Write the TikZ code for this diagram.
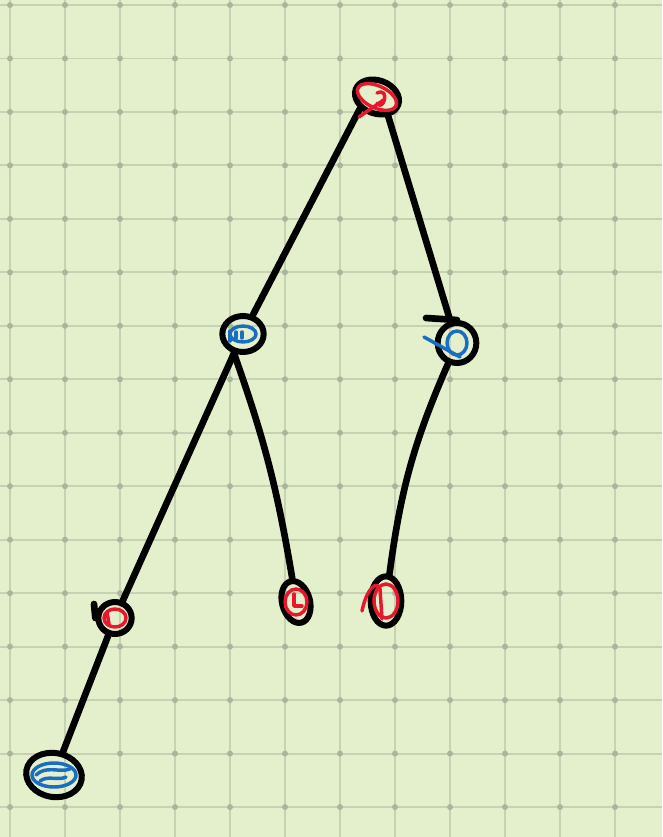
\documentclass[tikz,border=0pt]{standalone}
\usetikzlibrary{shapes.geometric}
\definecolor{paper}{HTML}{E4F0CC}
\definecolor{gridline}{HTML}{C6D2B2}
\definecolor{griddot}{HTML}{A9B59C}
\definecolor{ink}{HTML}{E8182C}
\definecolor{pen}{HTML}{1A6EC2}

\begin{document}
\begin{tikzpicture}[x=0.75pt, y=-0.75pt,
  blob/.style={draw, ellipse, line width=4.5pt, inner sep=0pt},
  edge/.style={line width=5pt, line cap=round},
  scrib/.style={line width=2.6pt, line cap=round, line join=round}]
  % paper with grid
  \fill[paper] (0,0) rectangle (662,837);
  \useasboundingbox (0,0) rectangle (662,837);
  \foreach \i in {0,...,11}
    \draw[gridline, line width=1.4pt] (10+55*\i,0) -- (10+55*\i,837);
  \foreach \j in {0,...,15}
    \draw[gridline, line width=1.4pt] (0,5+53.47*\j) -- (662,5+53.47*\j);
  \foreach \i in {0,...,11}
    \foreach \j in {0,...,15}
      \fill[griddot] (10+55*\i,5+53.47*\j) circle (3);

  % tree nodes
  \node[blob, minimum width=34pt, minimum height=25pt, rotate=-20] (root) at (377,97) {};
  \node[blob, minimum width=31pt, minimum height=27pt] (l) at (243,334) {};
  \node[blob, minimum width=29pt, minimum height=30pt] (r) at (457,343) {};
  \node[blob, minimum width=25pt, minimum height=24pt] (ll) at (115,618) {};
  \node[blob, minimum width=21pt, minimum height=32pt, rotate=15] (lr) at (296,602) {};
  \node[blob, minimum width=23pt, minimum height=37pt] (rl) at (386,601) {};
  \node[blob, minimum width=42pt, minimum height=33pt, rotate=-10] (lll) at (54,775) {};

  % branches
  \draw[edge] (root.235) -- (l);
  \draw[edge] (root.-40) -- (r);
  \draw[edge] (l.-115) -- (ll);
  \draw[edge] (l.-115) to[bend left=5] (lr);
  \draw[edge] (r) to[bend right=8] (rl);
  \draw[edge] (ll) -- (lll);
  \coordinate (rtick) at (426,318);
  \draw[edge] (rtick) -- (r.north);
  \coordinate (lltick) at (94,604);
  \draw[edge] (lltick) -- (ll.west);

  % colour scribbles
  \draw[scrib, ink, rotate around={-25:(root)}] (root) ellipse (21 and 11);
  \draw[scrib, ink] (root) ++(-18,20) -- ++(26,-18) ++(-8,-6) .. controls ++(14,-6) and ++(6,10) .. ++(0,10);
  \draw[scrib, pen] (l) ellipse (13 and 8);
  \draw[scrib, pen] (l) ++(-13,-3) -- ++(0,10) ++(6,-9) -- ++(0,6) ++(6,-6) -- ++(0,6);
  \draw[scrib, pen] (r) ellipse (10 and 12);
  \draw[scrib, pen] (r) ++(-33,-6) -- ++(36,20);
  \draw[scrib, ink] (ll) ellipse (11 and 9);
  \draw[scrib, ink] (ll) ++(-8,-6) -- ++(2,12);
  \draw[scrib, ink] (lr) ellipse (11 and 13);
  \draw[scrib, ink] (lr) ++(-2,-8) -- ++(0,12) -- ++(8,0);
  \draw[scrib, ink] (rl) ellipse (12 and 17);
  \draw[scrib, ink] (rl) ++(-24,10) .. controls ++(4,-20) and ++(-4,-10) .. ++(18,-22) -- ++(2,30);
  \draw[scrib, pen] (lll) ellipse (22 and 12);
  \draw[scrib, pen] (lll) ++(-18,0) .. controls ++(10,-10) and ++(-10,4) .. ++(34,-6);
  \draw[scrib, pen] (lll) ++(-14,6) .. controls ++(8,-6) and ++(-8,4) .. ++(26,-4);
\end{tikzpicture}
\end{document}
